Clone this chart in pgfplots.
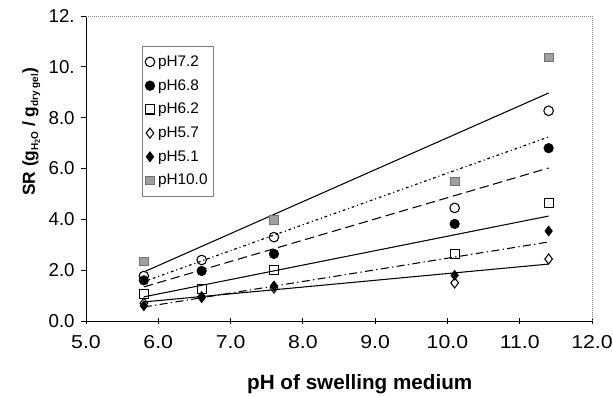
\documentclass[border=0pt]{standalone}
\usepackage{pgfplots}
\pgfplotsset{compat=1.18}
\usepackage{fontspec}
\setmainfont{Liberation Sans}
\newfontfamily\xfont[FakeStretch=1.14]{Liberation Sans}
\usetikzlibrary{calc}
\begin{document}
\begin{tikzpicture}
\begin{axis}[
  scale only axis,
  width=379.5pt, height=228.75pt,
  xmin=5, xmax=12, ymin=0, ymax=12,
  xtick={5,6,7,8,9,10,11,12},
  xticklabels={5.0,6.0,7.0,8.0,9.0,10.0,11.0,12.0},
  ytick={0,2,4,6,8,10,12},
  yticklabels={0.0,2.0,4.0,6.0,8.0,10.,12.},
  axis x line*=bottom, axis y line*=left,
  axis line style={black, line width=0.7pt},
  x tick style={black, line width=0.6pt}, y tick style={black, line width=0.6pt},
  xtick align=center, ytick align=outside,
  major tick length=4pt,
  xticklabel style={font=\xfont\fontsize{14}{16}\selectfont, yshift=-5pt},
  yticklabel style={font=\fontsize{14}{16}\selectfont, xshift=-1pt},
  xlabel={\textbf{pH of swelling medium}},
  xlabel style={font=\fontsize{15.5}{18}\selectfont, at={(axis description cs:0.541,-0.224)}, anchor=base},
  ylabel={\textbf{SR (g{\fontsize{7.5}{9}\selectfont\raisebox{-2.5pt}{H\raisebox{-1.2pt}{\fontsize{5.5}{6}\selectfont 2}O}} / g{\fontsize{7.5}{9}\selectfont\raisebox{-2.5pt}{dry gel}})}},
  ylabel style={font=\fontsize{13}{15}\selectfont, at={(axis description cs:-0.108,0.62)}, anchor=center},
  legend style={at={(axis description cs:0.111,0.902)}, anchor=north west, draw=gray, line width=0.5pt,
    font=\fontsize{11.5}{13}\selectfont, row sep=4.3pt, inner xsep=2pt, inner ysep=5pt,
    nodes={inner xsep=2.5pt}},
  legend cell align=left,
  clip=false,
]
\coordinate (O) at (rel axis cs:0,0);
\coordinate (T) at (rel axis cs:1,1);
% fit lines
\addplot[black, line width=0.8pt, forget plot] coordinates {(5.8,1.93) (11.4,8.97)};
\addplot[black, line width=0.9pt, dash pattern=on 2pt off 2.2pt on 0.8pt off 2.2pt, forget plot] coordinates {(5.8,1.55) (11.4,7.24)};
\addplot[black, line width=0.8pt, dash pattern=on 7pt off 3.5pt, forget plot] coordinates {(5.8,1.34) (11.4,6.02)};
\addplot[black, line width=0.8pt, forget plot] coordinates {(5.8,0.95) (11.4,4.13)};
\addplot[black, line width=0.8pt, dash pattern=on 6pt off 2.5pt on 1pt off 2.5pt, forget plot] coordinates {(5.8,0.55) (11.4,3.11)};
\addplot[black, line width=0.8pt, forget plot] coordinates {(5.8,0.75) (11.4,2.24)};
% data
\addplot[only marks, mark=o, mark size=3.6pt, mark options={black, fill=white, line width=0.8pt}]
  coordinates {(5.8,1.77) (6.6,2.4) (7.6,3.3) (10.1,4.45) (11.4,8.27)};
\addlegendentry{pH7.2}
\addplot[only marks, mark=*, mark size=3.6pt, mark options={black, fill=black}]
  coordinates {(5.8,1.6) (6.6,1.97) (7.6,2.64) (10.1,3.82) (11.4,6.8)};
\addlegendentry{pH6.8}
\addplot[only marks, mark=square, mark size=3.4pt, mark options={black, fill=white, line width=0.8pt}]
  coordinates {(5.8,1.06) (6.6,1.26) (7.6,2.0) (10.1,2.64) (11.4,4.64)};
\addlegendentry{pH6.2}
\addplot[only marks, mark=diamond, mark size=3.8pt, mark options={black, fill=white, line width=0.8pt}]
  coordinates {(5.8,0.7) (6.6,0.95) (7.6,1.3) (10.1,1.5) (11.4,2.44)};
\addlegendentry{pH5.7}
\addplot[only marks, mark=diamond*, mark size=3.8pt, mark options={black, fill=black}]
  coordinates {(5.8,0.6) (6.6,0.92) (7.6,1.38) (10.1,1.8) (11.4,3.54)};
\addlegendentry{pH5.1}
\addplot[only marks, mark=square*, mark size=3.2pt, mark options={draw=gray!90!black, fill=gray!75}]
  coordinates {(5.8,2.35) (7.6,3.98) (10.1,5.5) (11.4,10.38)};
\addlegendentry{pH10.0}
\draw[gray, line width=0.5pt, densely dotted] (rel axis cs:0,1) -- (rel axis cs:1,1) -- (rel axis cs:1,0);
\end{axis}
\pgfresetboundingbox
\path[use as bounding box] ($(O)+(-64.5pt,-56.25pt)$) rectangle ($(T)+(15.75pt,12pt)$);
\end{tikzpicture}
\end{document}
